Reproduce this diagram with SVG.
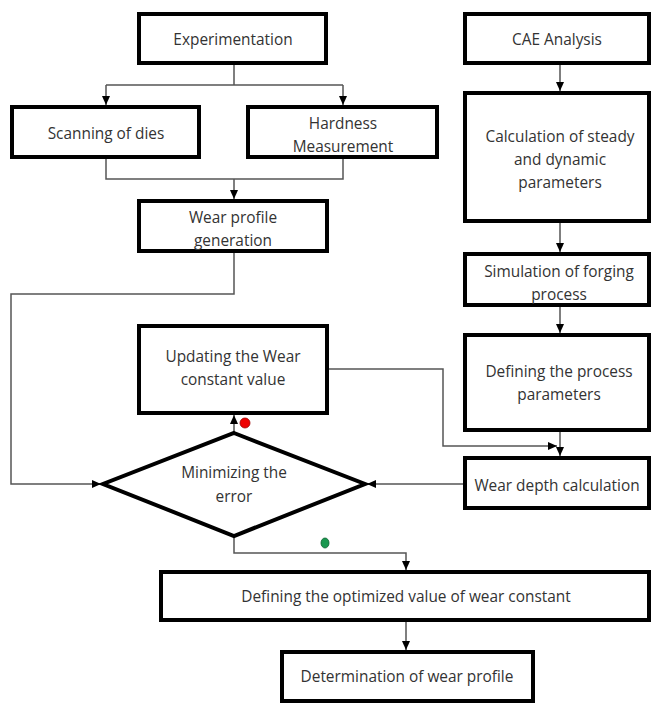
<svg xmlns="http://www.w3.org/2000/svg" width="651" height="703" viewBox="0 0 651 703">
<style>
.box{fill:#fff;stroke:#000;stroke-width:4}
.t{font-family:"Open Sans","Noto Sans",sans-serif;font-size:15.4px;fill:#333;text-anchor:middle}
.c{fill:none;stroke:#555;stroke-width:1.5}
</style>
<defs>
<marker id="a" markerUnits="userSpaceOnUse" markerWidth="10" markerHeight="10" refX="9" refY="4" orient="auto">
<path d="M0,0 L9,4 L0,8 z" fill="#000"/>
</marker>
</defs>
<rect width="651" height="703" fill="#fff"/>
<g id="connectors">
<path class="c" d="M234,63 V85 M106,85 H343"/>
<path class="c" d="M106,85 V105" marker-end="url(#a)"/>
<path class="c" d="M343,85 V105" marker-end="url(#a)"/>
<path class="c" d="M106,157 V179 H343 V157"/>
<path class="c" d="M234,179 V199" marker-end="url(#a)"/>
<path class="c" d="M234,251 V294 H11 V484 H101" marker-end="url(#a)"/>
<path class="c" d="M560,63 V91" marker-end="url(#a)"/>
<path class="c" d="M560,221 V252" marker-end="url(#a)"/>
<path class="c" d="M560,305 V333" marker-end="url(#a)"/>
<path class="c" d="M560,430 V456" marker-end="url(#a)"/>
<path class="c" d="M327,369 H443 V446 H557" marker-end="url(#a)"/>
<path class="c" d="M465,484 H367" marker-end="url(#a)"/>
<path class="c" d="M234,433 V415" marker-end="url(#a)"/>
<path class="c" d="M234,536 V553 H406 V570" marker-end="url(#a)"/>
<path class="c" d="M406,620 V650" marker-end="url(#a)"/>
<circle cx="245" cy="423" r="5" fill="#e00" stroke="#900" stroke-width="0.8"/>
<ellipse cx="325" cy="543" rx="4" ry="5" fill="#1a9850" stroke="#0d6030" stroke-width="0.8"/>
</g>
<g id="experimentation"><rect class="box" x="139" y="14" width="187" height="49"/><text class="t" x="233" y="45">Experimentation</text></g>
<g id="cae"><rect class="box" x="465" y="14" width="184" height="49"/><text class="t" x="557" y="45">CAE Analysis</text></g>
<g id="scanning"><rect class="box" x="12" y="107" width="187" height="50"/><text class="t" x="106" y="139">Scanning of dies</text></g>
<g id="hardness"><rect class="box" x="248" y="107" width="189" height="50"/><text class="t" x="343" y="129">Hardness</text><text class="t" x="343" y="152">Measurement</text></g>
<g id="wearprofile"><rect class="box" x="139" y="201" width="188" height="50"/><text class="t" x="233" y="223">Wear profile</text><text class="t" x="233" y="246">generation</text></g>
<g id="calc"><rect class="box" x="465" y="93" width="184" height="128"/><text class="t" x="560" y="142">Calculation of steady</text><text class="t" x="560" y="165">and dynamic</text><text class="t" x="560" y="188">parameters</text></g>
<g id="simulation"><rect class="box" x="465" y="254" width="184" height="51"/><text class="t" x="559" y="277">Simulation of forging</text><text class="t" x="559" y="300">process</text></g>
<g id="process"><rect class="box" x="465" y="335" width="184" height="95"/><text class="t" x="559" y="377">Defining the process</text><text class="t" x="559" y="400">parameters</text></g>
<g id="weardepth"><rect class="box" x="465" y="458" width="184" height="50"/><text class="t" x="557" y="491">Wear depth calculation</text></g>
<g id="updating"><rect class="box" x="139" y="326" width="188" height="87"/><text class="t" x="233" y="362">Updating the Wear</text><text class="t" x="233" y="385">constant value</text></g>
<g id="minimizing"><polygon class="box" points="234,433 365,484 234,536 103,484"/><text class="t" x="234" y="478">Minimizing the</text><text class="t" x="234" y="502">error</text></g>
<g id="optimized"><rect class="box" x="161" y="572" width="488" height="48"/><text class="t" x="406" y="602">Defining the optimized value of wear constant</text></g>
<g id="determination"><rect class="box" x="282" y="652" width="251" height="49"/><text class="t" x="407" y="682">Determination of wear profile</text></g>
</svg>
